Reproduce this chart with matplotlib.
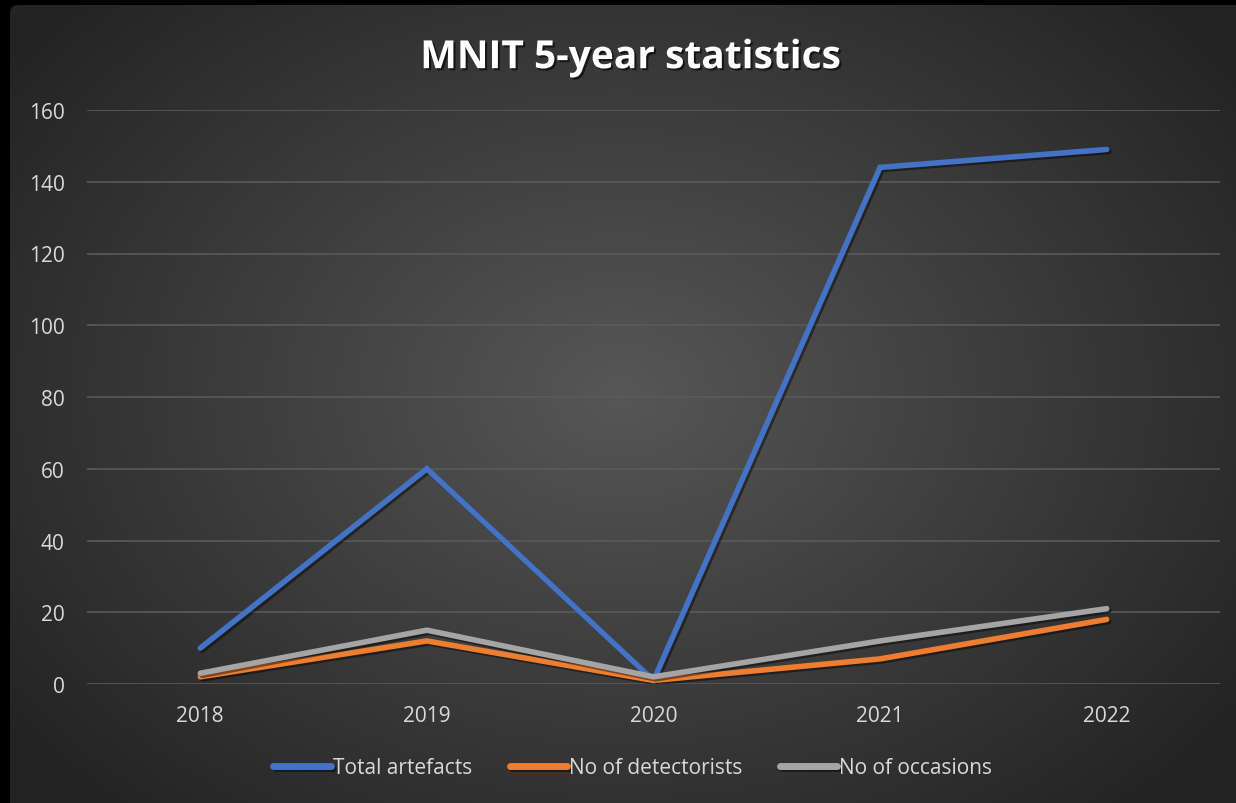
import numpy as np
import matplotlib

matplotlib.use('Agg')
import matplotlib.pyplot as plt
import matplotlib.patheffects as pe
from matplotlib.patches import FancyBboxPatch

years = ['2018', '2019', '2020', '2021', '2022']
total_artefacts = [10, 60, 1, 144, 149]
no_detectorists = [2, 12, 1, 7, 18]
no_occasions = [3, 15, 2, 12, 21]

W, H = 1236, 804
fig = plt.figure(figsize=(W / 100, H / 100), dpi=100, facecolor='black')

# background card with radial gradient
bg = fig.add_axes([0, 0, 1, 1])
bg.set_xlim(0, W)
bg.set_ylim(0, H)
bg.axis('off')
yy, xx = np.mgrid[0:H, 0:W]
r = np.sqrt(((xx - 620) / 760.0) ** 2 + ((yy - 410) / 560.0) ** 2)
r = np.clip(r, 0, 1)
shade = 0.34 - 0.20 * r
img = bg.imshow(np.dstack([shade, shade, shade]), extent=(0, W, 0, H),
                origin='lower', interpolation='bilinear', zorder=0)
card = FancyBboxPatch((10, -20), W + 20, H - 6 + 20,
                      boxstyle='round,pad=0,rounding_size=8',
                      transform=bg.transData, facecolor='none', edgecolor='none')
bg.add_patch(card)
img.set_clip_path(card)

ax = fig.add_axes([87 / W, (H - 685) / H, (1220 - 87) / W, (685 - 111) / H])
ax.set_facecolor('none')
x = np.arange(len(years))

shadow = [pe.SimpleLineShadow(offset=(1.5, -1.5), shadow_color='black', alpha=0.45, rho=1), pe.Normal()]
ax.plot(x, total_artefacts, color='#4472c4', lw=4, solid_capstyle='round',
        solid_joinstyle='miter', label='Total artefacts', path_effects=shadow, zorder=3)
ax.plot(x, no_detectorists, color='#ed7d31', lw=4, solid_capstyle='round',
        solid_joinstyle='miter', label='No of detectorists', path_effects=shadow, zorder=4)
ax.plot(x, no_occasions, color='#a5a5a5', lw=4, solid_capstyle='round',
        solid_joinstyle='miter', label='No of occasions', path_effects=shadow, zorder=5)

ax.set_xlim(-0.5, len(years) - 0.5)
ax.set_ylim(0, 160)
ax.set_yticks(range(0, 161, 20))
ax.set_xticks(x)
ax.set_xticklabels(years)
for s in ax.spines.values():
    s.set_visible(False)
ax.grid(axis='y', color='#5a5a5a', lw=1.2)
ax.set_axisbelow(True)
ax.tick_params(length=0, colors='#d9d9d9', labelsize=15, pad=16)
ax.tick_params(axis='x', pad=15)
for lab in ax.get_xticklabels() + ax.get_yticklabels():
    lab.set_fontfamily('Open Sans')

fig.text(0.51, 0.927, 'MNIT 5-year statistics', color='white', fontsize=28,
         fontweight='bold', fontfamily='Open Sans', ha='center', va='center',
         path_effects=[pe.withSimplePatchShadow(offset=(1.5, -1.5), shadow_rgbFace='black', alpha=0.6)])

leg = fig.legend(loc='center', bbox_to_anchor=(0.512, 0.044), ncol=3, frameon=False,
                 handlelength=2.75, handletextpad=0.1, columnspacing=1.8,
                 prop={'family': 'Open Sans', 'size': 15})
for t in leg.get_texts():
    t.set_color('#d9d9d9')
for h in leg.legend_handles:
    h.set_linewidth(5)
    h.set_solid_capstyle('round')

fig.savefig('out.png', dpi=100, facecolor='black')
